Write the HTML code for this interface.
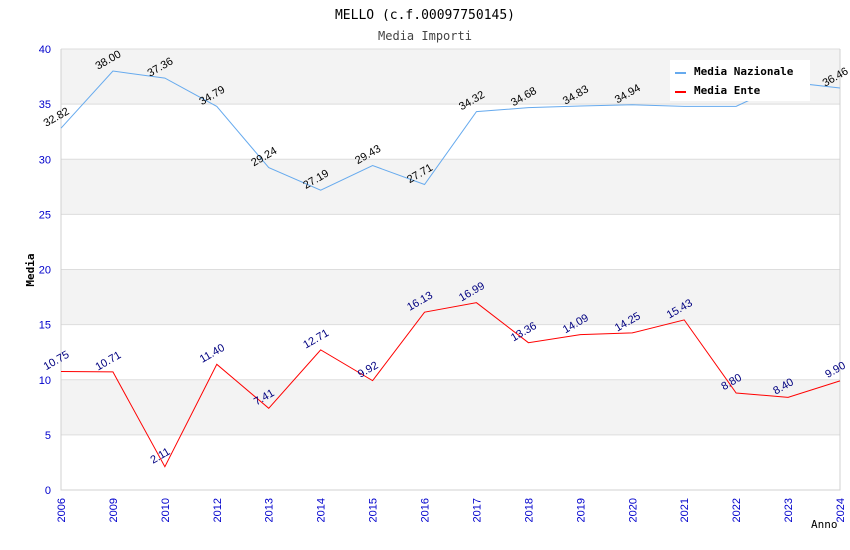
<!DOCTYPE html>
<html><head><meta charset="utf-8"><style>
body{margin:0;background:#fff;}
svg{display:block;font-family:"DejaVu Sans Mono","Liberation Mono",monospace;}
</style></head><body>
<svg id="chart" width="850" height="550"></svg>
<script>
const categories=["2006","2009","2010","2012","2013","2014","2015","2016","2017","2018","2019","2020","2021","2022","2023","2024"];
const nazionale=[32.82,38.00,37.36,34.79,29.24,27.19,29.43,27.71,34.32,34.68,34.83,34.94,34.80,34.80,37.00,36.46];
const nazLabels=["32.82","38.00","37.36","34.79","29.24","27.19","29.43","27.71","34.32","34.68","34.83","34.94","","","","36.46"];
const ente=[10.75,10.71,2.11,11.40,7.41,12.71,9.92,16.13,16.99,13.36,14.09,14.25,15.43,8.80,8.40,9.90];
const yTicks=[0,5,10,15,20,25,30,35,40];
const X0=61,X1=840,Y0=490,Y1=49,YMAX=40;
const NS="http://www.w3.org/2000/svg";
const svg=document.getElementById('chart');
function x(i){return X0+(X1-X0)*i/(categories.length-1);}
function y(v){return Y0-(Y0-Y1)*v/YMAX;}
function mk(t,a,txt){const e=document.createElementNS(NS,t);for(const k in a)e.setAttribute(k,a[k]);if(txt!==undefined)e.textContent=txt;svg.appendChild(e);return e;}
for(let i=0;i<yTicks.length-1;i++){
  if(i%2===1){const r=mk('rect',{x:X0,y:y(yTicks[i+1]),width:X1-X0,height:y(yTicks[i])-y(yTicks[i+1]),fill:'#f3f3f3'});
  
  }
}
yTicks.forEach(t=>{
  const l=mk('line',{x1:X0,x2:X1,y1:y(t),y2:y(t),stroke:'#dddddd','stroke-width':1});
  
  
  const tx=mk('text',{x:X0-10,y:y(t)+4,'text-anchor':'end','font-size':11,fill:'#0000cc','font-family':'Liberation Sans, sans-serif'},t);
  
  
});
const ax=mk('path',{d:`M${X0},${Y1} V${Y0} H${X1} V${Y1}`,fill:'none',stroke:'#d0d0d0'});


categories.forEach((c,i)=>{
  const t=mk('text',{transform:`translate(${x(i)+4},${Y0+8}) rotate(-90)`,'text-anchor':'end','font-size':11,fill:'#0000cc','font-family':'Liberation Sans, sans-serif'},c);
  
  
});
function series(vals,labels,color,lblColor,name){
  const p=mk('polyline',{points:vals.map((v,i)=>x(i)+','+y(v)).join(' '),fill:'none',stroke:color,'stroke-width':1});
  
  
  vals.forEach((v,i)=>{
    const s=labels[i];if(!s)return;
    const t=mk('text',{transform:`translate(${x(i)-3},${y(v)-8}) rotate(-30)`,'text-anchor':'middle','font-size':11,fill:lblColor,'font-family':'Liberation Sans, sans-serif'},s);
    
    
  });
}
series(nazionale,nazLabels,'#66aaee','#000','nazionale');
series(ente,ente.map(v=>v.toFixed(2)),'#ff0000','#000080','ente');
const title=mk('text',{x:425,y:19,'text-anchor':'middle','font-size':13,fill:'#000'},'MELLO (c.f.00097750145)');


const sub=mk('text',{x:425,y:40,'text-anchor':'middle','font-size':12,fill:'#444'},'Media Importi');


const yt=mk('text',{transform:'translate(34,270) rotate(-90)','text-anchor':'middle','font-size':11,'font-weight':'bold',fill:'#000'},'Media');


const xt=mk('text',{x:811,y:528,'font-size':11,fill:'#000'},'Anno');


const lg=mk('rect',{x:670,y:60,width:140,height:41,fill:'#fff'});


[['Media Nazionale','#66aaee',72],['Media Ente','#ff0000',91]].forEach(([n,c,yy])=>{
  const l=mk('line',{x1:675,x2:686,y1:yy+1,y2:yy+1,stroke:c,'stroke-width':2});
  
  
  const t=mk('text',{x:694,y:yy+3,'font-size':11,'font-weight':'bold',fill:'#000'},n);
  
  
});
</script>
</body></html>
